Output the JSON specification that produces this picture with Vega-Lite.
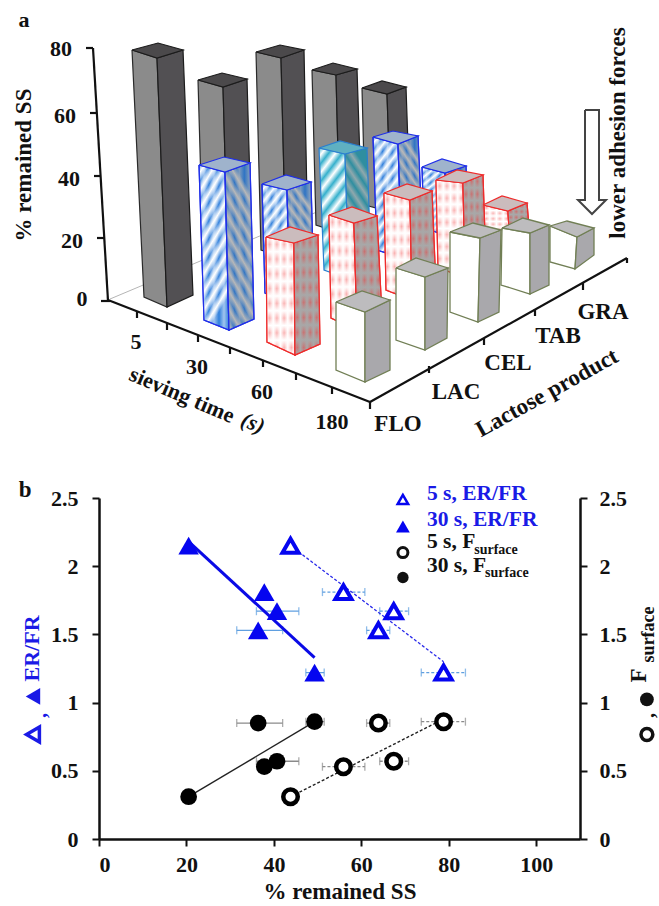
{"$schema":"https://vega.github.io/schema/vega-lite/v6.json","background":"white","autosize":{"type":"pad"},"padding":{"left":13,"top":0,"right":0,"bottom":0},"bounds":"flush","spacing":38,"config":{"view":{"stroke":null},"text":{"font":"Liberation Serif","fontWeight":"bold","fontSize":22,"color":"#111"}},
"datasets":{"faces":[
{"s":"5 s","p":"GRA","f":"front","x":[362,387,391,365,362],"y":[88,94,212,205,88],"v":[0,1,2,3,4]},
{"s":"5 s","p":"GRA","f":"side","x":[387,406,410,391,387],"y":[94,87,203,212,94],"v":[0,1,2,3,4]},
{"s":"5 s","p":"GRA","f":"top","x":[362,382,406,387,362],"y":[88,81,87,94,88],"v":[0,1,2,3,4]},
{"s":"5 s","p":"TAB","f":"front","x":[312,336,340,316,312],"y":[70,75,233,225,70],"v":[0,1,2,3,4]},
{"s":"5 s","p":"TAB","f":"side","x":[336,357,362,340,336],"y":[75,69,222,233,75],"v":[0,1,2,3,4]},
{"s":"5 s","p":"TAB","f":"top","x":[312,333,357,336,312],"y":[70,63,69,75,70],"v":[0,1,2,3,4]},
{"s":"5 s","p":"CEL","f":"front","x":[256,281,286,261,256],"y":[52,58,258,250,52],"v":[0,1,2,3,4]},
{"s":"5 s","p":"CEL","f":"side","x":[281,304,308,286,281],"y":[58,50,248,258,58],"v":[0,1,2,3,4]},
{"s":"5 s","p":"CEL","f":"top","x":[256,280,304,281,256],"y":[52,45,50,58,52],"v":[0,1,2,3,4]},
{"s":"5 s","p":"LAC","f":"front","x":[198,223,228,203,198],"y":[80,87,264,255,80],"v":[0,1,2,3,4]},
{"s":"5 s","p":"LAC","f":"side","x":[223,247,252,228,223],"y":[87,79,254,264,87],"v":[0,1,2,3,4]},
{"s":"5 s","p":"LAC","f":"top","x":[198,222,247,223,198],"y":[80,73,79,87,80],"v":[0,1,2,3,4]},
{"s":"5 s","p":"FLO","f":"front","x":[132,157,167,144,132],"y":[50,58,307,297,50],"v":[0,1,2,3,4]},
{"s":"5 s","p":"FLO","f":"side","x":[157,183,193,167,157],"y":[58,50,295,307,58],"v":[0,1,2,3,4]},
{"s":"5 s","p":"FLO","f":"top","x":[132,158,183,157,132],"y":[50,43,50,58,50],"v":[0,1,2,3,4]},
{"s":"30 s","p":"GRA","f":"front","x":[422,445,448,424,422],"y":[167,173,236,228,167],"v":[0,1,2,3,4]},
{"s":"30 s","p":"GRA","f":"side","x":[445,466,468,448,445],"y":[173,166,226,236,173],"v":[0,1,2,3,4]},
{"s":"30 s","p":"GRA","f":"top","x":[422,442,466,445,422],"y":[167,159,166,173,167],"v":[0,1,2,3,4]},
{"s":"30 s","p":"TAB","f":"front","x":[373,398,402,377,373],"y":[137,144,258,250,137],"v":[0,1,2,3,4]},
{"s":"30 s","p":"TAB","f":"side","x":[398,418,423,402,398],"y":[144,136,247,258,144],"v":[0,1,2,3,4]},
{"s":"30 s","p":"TAB","f":"top","x":[373,393,418,398,373],"y":[137,131,136,144,137],"v":[0,1,2,3,4]},
{"s":"30 s","p":"CEL","f":"front","x":[319,345,349,324,319],"y":[148,154,279,270,148],"v":[0,1,2,3,4]},
{"s":"30 s","p":"CEL","f":"side","x":[345,367,371,349,345],"y":[154,148,268,279,154],"v":[0,1,2,3,4]},
{"s":"30 s","p":"CEL","f":"top","x":[319,340,367,345,319],"y":[148,141,148,154,148],"v":[0,1,2,3,4]},
{"s":"30 s","p":"LAC","f":"front","x":[262,287,290,265,262],"y":[184,190,303,293,184],"v":[0,1,2,3,4]},
{"s":"30 s","p":"LAC","f":"side","x":[287,311,314,290,287],"y":[190,182,292,303,190],"v":[0,1,2,3,4]},
{"s":"30 s","p":"LAC","f":"top","x":[262,286,311,287,262],"y":[184,175,182,190,184],"v":[0,1,2,3,4]},
{"s":"30 s","p":"FLO","f":"front","x":[199,225,229,204,199],"y":[165,172,330,320,165],"v":[0,1,2,3,4]},
{"s":"30 s","p":"FLO","f":"side","x":[225,250,254,229,225],"y":[172,163,319,330,172],"v":[0,1,2,3,4]},
{"s":"30 s","p":"FLO","f":"top","x":[199,224,250,225,199],"y":[165,157,163,172,165],"v":[0,1,2,3,4]},
{"s":"60 s","p":"GRA","f":"front","x":[483,508,510,485,483],"y":[205,211,249,240,205],"v":[0,1,2,3,4]},
{"s":"60 s","p":"GRA","f":"side","x":[508,527,530,510,508],"y":[211,203,238,249,211],"v":[0,1,2,3,4]},
{"s":"60 s","p":"GRA","f":"top","x":[483,502,527,508,483],"y":[205,196,203,211,205],"v":[0,1,2,3,4]},
{"s":"60 s","p":"TAB","f":"front","x":[436,463,465,438,436],"y":[180,183,277,268,180],"v":[0,1,2,3,4]},
{"s":"60 s","p":"TAB","f":"side","x":[463,483,486,465,463],"y":[183,175,265,277,183],"v":[0,1,2,3,4]},
{"s":"60 s","p":"TAB","f":"top","x":[436,457,483,463,436],"y":[180,170,175,183,180],"v":[0,1,2,3,4]},
{"s":"60 s","p":"CEL","f":"front","x":[384,410,412,386,384],"y":[193,200,300,290,193],"v":[0,1,2,3,4]},
{"s":"60 s","p":"CEL","f":"side","x":[410,432,436,412,410],"y":[200,191,288,300,200],"v":[0,1,2,3,4]},
{"s":"60 s","p":"CEL","f":"top","x":[384,407,432,410,384],"y":[193,184,191,200,193],"v":[0,1,2,3,4]},
{"s":"60 s","p":"LAC","f":"front","x":[329,354,357,331,329],"y":[215,223,330,318,215],"v":[0,1,2,3,4]},
{"s":"60 s","p":"LAC","f":"side","x":[354,377,382,357,354],"y":[223,216,316,330,223],"v":[0,1,2,3,4]},
{"s":"60 s","p":"LAC","f":"top","x":[329,352,377,354,329],"y":[215,207,216,223,215],"v":[0,1,2,3,4]},
{"s":"60 s","p":"FLO","f":"front","x":[266,294,295,267,266],"y":[237,243,355,342,237],"v":[0,1,2,3,4]},
{"s":"60 s","p":"FLO","f":"side","x":[294,318,320,295,294],"y":[243,235,344,355,243],"v":[0,1,2,3,4]},
{"s":"60 s","p":"FLO","f":"top","x":[266,290,318,294,266],"y":[237,227,235,243,237],"v":[0,1,2,3,4]},
{"s":"180 s","p":"GRA","f":"front","x":[550,577,575,550,550],"y":[226,237,269,262,226],"v":[0,1,2,3,4]},
{"s":"180 s","p":"GRA","f":"side","x":[577,594,594,575,577],"y":[237,228,255,269,237],"v":[0,1,2,3,4]},
{"s":"180 s","p":"GRA","f":"top","x":[550,567,594,577,550],"y":[226,221,228,237,226],"v":[0,1,2,3,4]},
{"s":"180 s","p":"TAB","f":"front","x":[502,530,530,501,502],"y":[228,233,294,285,228],"v":[0,1,2,3,4]},
{"s":"180 s","p":"TAB","f":"side","x":[530,549,549,530,530],"y":[233,225,285,294,233],"v":[0,1,2,3,4]},
{"s":"180 s","p":"TAB","f":"top","x":[502,523,549,530,502],"y":[228,218,225,233,228],"v":[0,1,2,3,4]},
{"s":"180 s","p":"CEL","f":"front","x":[450,480,478,450,450],"y":[232,238,322,312,232],"v":[0,1,2,3,4]},
{"s":"180 s","p":"CEL","f":"side","x":[480,501,499,478,480],"y":[238,230,312,322,238],"v":[0,1,2,3,4]},
{"s":"180 s","p":"CEL","f":"top","x":[450,473,501,480,450],"y":[232,223,230,238,232],"v":[0,1,2,3,4]},
{"s":"180 s","p":"LAC","f":"front","x":[396,425,425,396,396],"y":[268,277,350,340,268],"v":[0,1,2,3,4]},
{"s":"180 s","p":"LAC","f":"side","x":[425,448,447,425,425],"y":[277,268,338,350,277],"v":[0,1,2,3,4]},
{"s":"180 s","p":"LAC","f":"top","x":[396,416,448,425,396],"y":[268,258,268,277,268],"v":[0,1,2,3,4]},
{"s":"180 s","p":"FLO","f":"front","x":[336,365,365,336,336],"y":[302,312,382,370,302],"v":[0,1,2,3,4]},
{"s":"180 s","p":"FLO","f":"side","x":[365,390,390,365,365],"y":[312,300,370,382,312],"v":[0,1,2,3,4]},
{"s":"180 s","p":"FLO","f":"top","x":[336,362,390,365,336],"y":[302,291,300,312,302],"v":[0,1,2,3,4]}
],
"frame":[
{"id":"zaxis","x":[93,108],"y":[48,301],"v":[0,1]},{"id":"left","x":[108,370],"y":[300,402],"v":[0,1]},{"id":"right","x":[370,627],"y":[402,258],"v":[0,1]},
{"id":"t80","x":[86,93],"y":[48,48],"v":[0,1]},{"id":"t60","x":[90,97],"y":[113,113],"v":[0,1]},{"id":"t40","x":[94,100.5],"y":[176,176],"v":[0,1]},{"id":"t20","x":[97,104],"y":[238,238],"v":[0,1]},{"id":"t0","x":[101,110],"y":[301,301],"v":[0,1]},
{"id":"l1","x":[137,137],"y":[311,318],"v":[0,1]},{"id":"l2","x":[167,167],"y":[323,330],"v":[0,1]},{"id":"l3","x":[198,198],"y":[335,342],"v":[0,1]},{"id":"l4","x":[230,230],"y":[347,354],"v":[0,1]},{"id":"l5","x":[263,263],"y":[360,367],"v":[0,1]},{"id":"l6","x":[296,296],"y":[373,380],"v":[0,1]},{"id":"l7","x":[332,332],"y":[387,394],"v":[0,1]},{"id":"l8","x":[370,370],"y":[402,409],"v":[0,1]},
{"id":"r1","x":[429,429],"y":[366,373],"v":[0,1]},{"id":"r2","x":[484,484],"y":[338,345],"v":[0,1]},{"id":"r3","x":[535,535],"y":[309,316],"v":[0,1]},{"id":"r4","x":[583,583],"y":[283,290],"v":[0,1]},{"id":"r5","x":[627,627],"y":[258,263],"v":[0,1]}
],
"points":[
{"time":"5 s","metric":"ER/FR","x":43.8,"y":2.15},
{"time":"5 s","metric":"ER/FR","x":55.9,"y":1.81,"xlo":51.1,"xhi":60.8},
{"time":"5 s","metric":"ER/FR","x":67.4,"y":1.67,"xlo":64.2,"xhi":70.8},
{"time":"5 s","metric":"ER/FR","x":63.9,"y":1.53,"xlo":61.2,"xhi":66.5},
{"time":"5 s","metric":"ER/FR","x":78.8,"y":1.22,"xlo":73.7,"xhi":83.8},
{"time":"30 s","metric":"ER/FR","x":20.5,"y":2.15},
{"time":"30 s","metric":"ER/FR","x":37.8,"y":1.81},
{"time":"30 s","metric":"ER/FR","x":40.7,"y":1.67,"xlo":36,"xhi":45.7},
{"time":"30 s","metric":"ER/FR","x":36.4,"y":1.53,"xlo":31.5,"xhi":42},
{"time":"30 s","metric":"ER/FR","x":49.3,"y":1.22,"xlo":47.3,"xhi":51.5},
{"time":"5 s","metric":"Fsurface","x":43.8,"y":0.31},
{"time":"5 s","metric":"Fsurface","x":55.9,"y":0.53,"xlo":51.1,"xhi":60.8},
{"time":"5 s","metric":"Fsurface","x":67.4,"y":0.57,"xlo":64.2,"xhi":70.8},
{"time":"5 s","metric":"Fsurface","x":63.9,"y":0.85,"xlo":61.2,"xhi":66.5},
{"time":"5 s","metric":"Fsurface","x":78.8,"y":0.86,"xlo":73.7,"xhi":83.8},
{"time":"30 s","metric":"Fsurface","x":20.5,"y":0.31},
{"time":"30 s","metric":"Fsurface","x":37.8,"y":0.53},
{"time":"30 s","metric":"Fsurface","x":40.7,"y":0.57,"xlo":36,"xhi":45.7},
{"time":"30 s","metric":"Fsurface","x":36.4,"y":0.85,"xlo":31.5,"xhi":42},
{"time":"30 s","metric":"Fsurface","x":49.3,"y":0.86,"xlo":47.3,"xhi":51.5}
],
"trend":[
{"time":"5 s","metric":"ER/FR","x":43.8,"y":2.15},{"time":"5 s","metric":"ER/FR","x":78.8,"y":1.3},
{"time":"30 s","metric":"ER/FR","x":20.5,"y":2.18},{"time":"30 s","metric":"ER/FR","x":49.3,"y":1.33},
{"time":"5 s","metric":"Fsurface","x":43.8,"y":0.31},{"time":"5 s","metric":"Fsurface","x":78.8,"y":0.88},
{"time":"30 s","metric":"Fsurface","x":20.5,"y":0.31},{"time":"30 s","metric":"Fsurface","x":49.3,"y":0.86}
]},
"vconcat":[
{"width":481,"height":460,
"encoding":{"x":{"field":"x","type":"quantitative","scale":{"domain":[99,580],"nice":false,"zero":false},"axis":null},"y":{"field":"y","type":"quantitative","scale":{"domain":[460,0],"nice":false,"zero":false},"axis":null}},
"layer":[
{"data":{"values":[{"x":[110,362],"y":[299,193],"v":[0,1]}]},"transform":[{"flatten":["x","y","v"]}],"mark":{"type":"line","stroke":"#b5b5b5","strokeWidth":1},"encoding":{"order":{"field":"v"}}},
{"data":{"name":"faces"},"transform":[{"flatten":["x","y","v"]}],
"encoding":{"order":{"field":"v"},"detail":{"field":"p"}},
"layer":[
{"transform":[{"filter":"datum.s=='5 s'&&datum.f=='front'"}],"mark":{"type":"line","fill":"#8b8b8b","stroke":"#2a2a2a","strokeWidth":1.2}},
{"transform":[{"filter":"datum.s=='5 s'&&datum.f=='side'"}],"mark":{"type":"line","fill":"#525053","stroke":"#1c1c1c","strokeWidth":1.2}},
{"transform":[{"filter":"datum.s=='5 s'&&datum.f=='top'"}],"mark":{"type":"line","fill":"#4b494b","stroke":"#1c1c1c","strokeWidth":1.2}},
{"transform":[{"filter":"datum.s=='30 s'&&datum.p!='CEL'&&datum.f=='front'"}],"mark":{"type":"line","stroke":"#1f2fe8","strokeWidth":1.2,"fill":{"gradient":"linear","x1":0,"y1":0,"x2":0.3,"y2":1,"stops":[{"offset":0,"color":"#2f7fdc"},{"offset":0.05,"color":"#ffffff"},{"offset":0.1,"color":"#2f7fdc"},{"offset":0.15,"color":"#ffffff"},{"offset":0.2,"color":"#2f7fdc"},{"offset":0.25,"color":"#ffffff"},{"offset":0.3,"color":"#2f7fdc"},{"offset":0.35,"color":"#ffffff"},{"offset":0.4,"color":"#2f7fdc"},{"offset":0.45,"color":"#ffffff"},{"offset":0.5,"color":"#2f7fdc"},{"offset":0.55,"color":"#ffffff"},{"offset":0.6,"color":"#2f7fdc"},{"offset":0.65,"color":"#ffffff"},{"offset":0.7,"color":"#2f7fdc"},{"offset":0.75,"color":"#ffffff"},{"offset":0.8,"color":"#2f7fdc"},{"offset":0.85,"color":"#ffffff"},{"offset":0.9,"color":"#2f7fdc"},{"offset":0.95,"color":"#ffffff"},{"offset":1,"color":"#2f7fdc"}]}}},
{"transform":[{"filter":"datum.s=='30 s'&&datum.p!='CEL'&&datum.f=='front'"}],"mark":{"type":"line","stroke":"#1f2fe8","strokeWidth":1.2,"fill":{"gradient":"linear","x1":0,"y1":0,"x2":1,"y2":0,"stops":[{"offset":0,"color":"rgba(255,255,255,0)"},{"offset":0.1667,"color":"rgba(255,255,255,0.55)"},{"offset":0.3333,"color":"rgba(255,255,255,0)"},{"offset":0.5,"color":"rgba(255,255,255,0.55)"},{"offset":0.6667,"color":"rgba(255,255,255,0)"},{"offset":0.8333,"color":"rgba(255,255,255,0.55)"},{"offset":1,"color":"rgba(255,255,255,0)"}]}}},
{"transform":[{"filter":"datum.s=='30 s'&&datum.p!='CEL'&&datum.f=='side'"}],"mark":{"type":"line","stroke":"#1f2fe8","strokeWidth":1.2,"fill":{"gradient":"linear","x1":0.3,"y1":0,"x2":0,"y2":1,"stops":[{"offset":0,"color":"#2f74c4"},{"offset":0.05,"color":"#b8b8b8"},{"offset":0.1,"color":"#2f74c4"},{"offset":0.15,"color":"#b8b8b8"},{"offset":0.2,"color":"#2f74c4"},{"offset":0.25,"color":"#b8b8b8"},{"offset":0.3,"color":"#2f74c4"},{"offset":0.35,"color":"#b8b8b8"},{"offset":0.4,"color":"#2f74c4"},{"offset":0.45,"color":"#b8b8b8"},{"offset":0.5,"color":"#2f74c4"},{"offset":0.55,"color":"#b8b8b8"},{"offset":0.6,"color":"#2f74c4"},{"offset":0.65,"color":"#b8b8b8"},{"offset":0.7,"color":"#2f74c4"},{"offset":0.75,"color":"#b8b8b8"},{"offset":0.8,"color":"#2f74c4"},{"offset":0.85,"color":"#b8b8b8"},{"offset":0.9,"color":"#2f74c4"},{"offset":0.95,"color":"#b8b8b8"},{"offset":1,"color":"#2f74c4"}]}}},
{"transform":[{"filter":"datum.s=='30 s'&&datum.p!='CEL'&&datum.f=='side'"}],"mark":{"type":"line","stroke":"#1f2fe8","strokeWidth":1.2,"fill":{"gradient":"linear","x1":0,"y1":0,"x2":1,"y2":0,"stops":[{"offset":0,"color":"rgba(184,184,184,0)"},{"offset":0.1667,"color":"rgba(184,184,184,0.55)"},{"offset":0.3333,"color":"rgba(184,184,184,0)"},{"offset":0.5,"color":"rgba(184,184,184,0.55)"},{"offset":0.6667,"color":"rgba(184,184,184,0)"},{"offset":0.8333,"color":"rgba(184,184,184,0.55)"},{"offset":1,"color":"rgba(184,184,184,0)"}]}}},
{"transform":[{"filter":"datum.s=='30 s'&&datum.p!='CEL'&&datum.f=='top'"}],"mark":{"type":"line","fill":"#9fb3cc","stroke":"#1f2fe8","strokeWidth":1.2}},
{"transform":[{"filter":"datum.s=='30 s'&&datum.p=='CEL'&&datum.f=='front'"}],"mark":{"type":"line","stroke":"#2a7fd0","strokeWidth":1.2,"fill":{"gradient":"linear","x1":0,"y1":0,"x2":0.3,"y2":1,"stops":[{"offset":0,"color":"#35b0cc"},{"offset":0.0625,"color":"#ffffff"},{"offset":0.125,"color":"#35b0cc"},{"offset":0.1875,"color":"#ffffff"},{"offset":0.25,"color":"#35b0cc"},{"offset":0.3125,"color":"#ffffff"},{"offset":0.375,"color":"#35b0cc"},{"offset":0.4375,"color":"#ffffff"},{"offset":0.5,"color":"#35b0cc"},{"offset":0.5625,"color":"#ffffff"},{"offset":0.625,"color":"#35b0cc"},{"offset":0.6875,"color":"#ffffff"},{"offset":0.75,"color":"#35b0cc"},{"offset":0.8125,"color":"#ffffff"},{"offset":0.875,"color":"#35b0cc"},{"offset":0.9375,"color":"#ffffff"},{"offset":1,"color":"#35b0cc"}]}}},
{"transform":[{"filter":"datum.s=='30 s'&&datum.p=='CEL'&&datum.f=='side'"}],"mark":{"type":"line","stroke":"#2a7fd0","strokeWidth":1.2,"fill":{"gradient":"linear","x1":0.3,"y1":0,"x2":0,"y2":1,"stops":[{"offset":0,"color":"#2f8ea0"},{"offset":0.0625,"color":"#8fa8ad"},{"offset":0.125,"color":"#2f8ea0"},{"offset":0.1875,"color":"#8fa8ad"},{"offset":0.25,"color":"#2f8ea0"},{"offset":0.3125,"color":"#8fa8ad"},{"offset":0.375,"color":"#2f8ea0"},{"offset":0.4375,"color":"#8fa8ad"},{"offset":0.5,"color":"#2f8ea0"},{"offset":0.5625,"color":"#8fa8ad"},{"offset":0.625,"color":"#2f8ea0"},{"offset":0.6875,"color":"#8fa8ad"},{"offset":0.75,"color":"#2f8ea0"},{"offset":0.8125,"color":"#8fa8ad"},{"offset":0.875,"color":"#2f8ea0"},{"offset":0.9375,"color":"#8fa8ad"},{"offset":1,"color":"#2f8ea0"}]}}},
{"transform":[{"filter":"datum.s=='30 s'&&datum.p=='CEL'&&datum.f=='top'"}],"mark":{"type":"line","stroke":"#2a7fd0","strokeWidth":1.2,"fill":"#5fb0c2"}},
{"transform":[{"filter":"datum.s=='60 s'&&datum.f=='front'"}],"mark":{"type":"line","stroke":"#ee2b2b","strokeWidth":1.2,"fill":{"gradient":"linear","x1":0,"y1":0,"x2":0,"y2":1,"stops":[{"offset":0,"color":"#ffffff"},{"offset":0.0625,"color":"#f9a8a8"},{"offset":0.125,"color":"#ffffff"},{"offset":0.1875,"color":"#f9a8a8"},{"offset":0.25,"color":"#ffffff"},{"offset":0.3125,"color":"#f9a8a8"},{"offset":0.375,"color":"#ffffff"},{"offset":0.4375,"color":"#f9a8a8"},{"offset":0.5,"color":"#ffffff"},{"offset":0.5625,"color":"#f9a8a8"},{"offset":0.625,"color":"#ffffff"},{"offset":0.6875,"color":"#f9a8a8"},{"offset":0.75,"color":"#ffffff"},{"offset":0.8125,"color":"#f9a8a8"},{"offset":0.875,"color":"#ffffff"},{"offset":0.9375,"color":"#f9a8a8"},{"offset":1,"color":"#ffffff"}]}}},
{"transform":[{"filter":"datum.s=='60 s'&&datum.f=='front'"}],"mark":{"type":"line","stroke":"#ee2b2b","strokeWidth":1.2,"fill":{"gradient":"linear","x1":0,"y1":0,"x2":1,"y2":0,"stops":[{"offset":0,"color":"rgba(255,255,255,1)"},{"offset":0.125,"color":"rgba(255,255,255,0.1)"},{"offset":0.25,"color":"rgba(255,255,255,1)"},{"offset":0.375,"color":"rgba(255,255,255,0.1)"},{"offset":0.5,"color":"rgba(255,255,255,1)"},{"offset":0.625,"color":"rgba(255,255,255,0.1)"},{"offset":0.75,"color":"rgba(255,255,255,1)"},{"offset":0.875,"color":"rgba(255,255,255,0.1)"},{"offset":1,"color":"rgba(255,255,255,1)"}]}}},
{"transform":[{"filter":"datum.s=='60 s'&&datum.f=='side'"}],"mark":{"type":"line","stroke":"#ee2b2b","strokeWidth":1.2,"fill":{"gradient":"linear","x1":0,"y1":0,"x2":0,"y2":1,"stops":[{"offset":0,"color":"#a8a8a8"},{"offset":0.0625,"color":"#cf6a6a"},{"offset":0.125,"color":"#a8a8a8"},{"offset":0.1875,"color":"#cf6a6a"},{"offset":0.25,"color":"#a8a8a8"},{"offset":0.3125,"color":"#cf6a6a"},{"offset":0.375,"color":"#a8a8a8"},{"offset":0.4375,"color":"#cf6a6a"},{"offset":0.5,"color":"#a8a8a8"},{"offset":0.5625,"color":"#cf6a6a"},{"offset":0.625,"color":"#a8a8a8"},{"offset":0.6875,"color":"#cf6a6a"},{"offset":0.75,"color":"#a8a8a8"},{"offset":0.8125,"color":"#cf6a6a"},{"offset":0.875,"color":"#a8a8a8"},{"offset":0.9375,"color":"#cf6a6a"},{"offset":1,"color":"#a8a8a8"}]}}},
{"transform":[{"filter":"datum.s=='60 s'&&datum.f=='side'"}],"mark":{"type":"line","stroke":"#ee2b2b","strokeWidth":1.2,"fill":{"gradient":"linear","x1":0,"y1":0,"x2":1,"y2":0,"stops":[{"offset":0,"color":"rgba(168,168,168,1)"},{"offset":0.125,"color":"rgba(168,168,168,0.1)"},{"offset":0.25,"color":"rgba(168,168,168,1)"},{"offset":0.375,"color":"rgba(168,168,168,0.1)"},{"offset":0.5,"color":"rgba(168,168,168,1)"},{"offset":0.625,"color":"rgba(168,168,168,0.1)"},{"offset":0.75,"color":"rgba(168,168,168,1)"},{"offset":0.875,"color":"rgba(168,168,168,0.1)"},{"offset":1,"color":"rgba(168,168,168,1)"}]}}},
{"transform":[{"filter":"datum.s=='60 s'&&datum.f=='top'"}],"mark":{"type":"line","fill":"#cbbcbd","stroke":"#ee2b2b","strokeWidth":1.2}},
{"transform":[{"filter":"datum.s=='180 s'&&datum.f=='front'"}],"mark":{"type":"line","fill":"#ffffff","stroke":"#717f55","strokeWidth":1.3}},
{"transform":[{"filter":"datum.s=='180 s'&&datum.f=='side'"}],"mark":{"type":"line","fill":"#a9a8ac","stroke":"#717f55","strokeWidth":1.3}},
{"transform":[{"filter":"datum.s=='180 s'&&datum.f=='top'"}],"mark":{"type":"line","fill":"#bdbcbe","stroke":"#717f55","strokeWidth":1.3}}
]},
{"data":{"name":"frame"},"transform":[{"flatten":["x","y","v"]}],"mark":{"type":"line","stroke":"#111","strokeWidth":2.2},"encoding":{"order":{"field":"v"},"detail":{"field":"id"}}},
{"data":{"values":[{"x":[585,599,599,606,592,578,585,585],"y":[110,110,200,200,214,200,200,110],"v":[0,1,2,3,4,5,6,7]}]},"transform":[{"flatten":["x","y","v"]}],"mark":{"type":"line","fill":"#ffffff","stroke":"#444","strokeWidth":2},"encoding":{"order":{"field":"v"}}},
{"data":{"values":[{"x":61,"y":49,"t":"80"},{"x":65,"y":116,"t":"60"},{"x":69,"y":179,"t":"40"},{"x":72,"y":241,"t":"20"},{"x":82,"y":299,"t":"0"},{"x":136,"y":342,"t":"5"},{"x":197,"y":367,"t":"30"},{"x":262,"y":392,"t":"60"},{"x":332,"y":422,"t":"180"},{"x":24,"y":20,"t":"a"}]},"mark":{"type":"text","baseline":"middle","align":"center"},"encoding":{"text":{"field":"t"}}},
{"data":{"values":[{"x":398,"y":424,"t":"FLO"},{"x":456,"y":392,"t":"LAC"},{"x":508,"y":363,"t":"CEL"},{"x":558,"y":336,"t":"TAB"},{"x":603,"y":312,"t":"GRA"}]},"mark":{"type":"text","baseline":"middle","align":"center","fontSize":23},"encoding":{"text":{"field":"t"}}},
{"data":{"values":[{"x":24,"y":165,"t":"% remained SS"},{"x":618,"y":133,"t":"lower adhesion forces"}]},"mark":{"type":"text","baseline":"middle","align":"center","angle":270,"fontSize":23},"encoding":{"text":{"field":"t"}}},
{"data":{"values":[{"x":182,"y":395,"t":"sieving time"}]},"mark":{"type":"text","baseline":"middle","align":"center","angle":23},"encoding":{"text":{"field":"t"}}},
{"data":{"values":[{"x":253,"y":423,"t":"(s)"}]},"mark":{"type":"text","baseline":"middle","align":"center","angle":23,"fontStyle":"italic"},"encoding":{"text":{"field":"t"}}},
{"data":{"values":[{"x":547,"y":393,"t":"Lactose product"}]},"mark":{"type":"text","baseline":"middle","align":"center","angle":331,"fontSize":23},"encoding":{"text":{"field":"t"}}}
]},
{"width":481,"height":341,
"resolve":{"scale":{"y":"independent"},"axis":{"y":"independent"}},
"layer":[
{"encoding":{"x":{"field":"x","type":"quantitative","title":"% remained SS","scale":{"domain":[0,110],"nice":false,"zero":false},"axis":{"values":[0,20,40,60,80,100],"grid":false,"domainWidth":2.5,"domainColor":"#111","tickColor":"#111","tickWidth":2,"tickSize":7,"labelFont":"Liberation Serif","labelFontWeight":"bold","labelFontSize":22,"labelColor":"#111","labelPadding":8,"titleFont":"Liberation Serif","titleFontWeight":"bold","titleFontSize":23,"titleColor":"#111","titlePadding":5}},
"y":{"field":"y","type":"quantitative","title":null,"scale":{"domain":[0,2.5],"nice":false,"zero":false},"axis":{"orient":"left","values":[0,0.5,1,1.5,2,2.5],"format":"~g","grid":false,"domainWidth":2.5,"domainColor":"#111","tickColor":"#111","tickWidth":2,"tickSize":7,"labelFont":"Liberation Serif","labelFontWeight":"bold","labelFontSize":22,"labelColor":"#111","labelPadding":14}}},
"layer":[
{"data":{"name":"points"},"transform":[{"filter":"datum.metric=='ER/FR'&&isValid(datum.xlo)"}],"mark":{"type":"rule","color":"#5f9fe0","strokeWidth":1.3},"encoding":{"x":{"field":"xlo","type":"quantitative","title":"% remained SS","scale":{"domain":[0,110],"nice":false,"zero":false}},"x2":{"field":"xhi"},"strokeDash":{"field":"time","scale":{"domain":["5 s","30 s"],"range":[[3,2],[1,0]]},"legend":null}}},
{"data":{"name":"points"},"transform":[{"filter":"datum.metric=='ER/FR'&&isValid(datum.xlo)"}],"mark":{"type":"tick","orient":"vertical","size":8,"color":"#5f9fe0","thickness":1.3},"encoding":{"x":{"field":"xlo","type":"quantitative","title":"% remained SS","scale":{"domain":[0,110],"nice":false,"zero":false}}}},
{"data":{"name":"points"},"transform":[{"filter":"datum.metric=='ER/FR'&&isValid(datum.xlo)"}],"mark":{"type":"tick","orient":"vertical","size":8,"color":"#5f9fe0","thickness":1.3},"encoding":{"x":{"field":"xhi","type":"quantitative","title":"% remained SS","scale":{"domain":[0,110],"nice":false,"zero":false}}}},
{"data":{"name":"trend"},"transform":[{"filter":"datum.metric=='ER/FR'&&datum.time=='30 s'"}],"mark":{"type":"line","color":"#0a0ae6","strokeWidth":3}},
{"data":{"name":"trend"},"transform":[{"filter":"datum.metric=='ER/FR'&&datum.time=='5 s'"}],"mark":{"type":"line","color":"#2a2aea","strokeWidth":1.3,"strokeDash":[3,2]}},
{"data":{"name":"points"},"transform":[{"filter":"datum.metric=='ER/FR'&&datum.time=='30 s'"}],"mark":{"type":"point","shape":"triangle-up","filled":true,"color":"#0505f0","size":420,"opacity":1}},
{"data":{"name":"points"},"transform":[{"filter":"datum.metric=='ER/FR'&&datum.time=='5 s'"}],"mark":{"type":"point","shape":"triangle-up","filled":false,"stroke":"#0505f0","strokeWidth":4,"fill":"white","size":260,"opacity":1}},
{"data":{"values":[{"x":69.5,"y":2.489}]},"mark":{"type":"point","shape":"triangle-up","filled":false,"stroke":"#0505f0","strokeWidth":2.5,"size":110,"opacity":1}},
{"data":{"values":[{"x":69.5,"y":2.291}]},"mark":{"type":"point","shape":"triangle-up","filled":true,"color":"#0505f0","size":190,"opacity":1}},
{"data":{"values":[{"x":69.5,"y":2.1}]},"mark":{"type":"point","shape":"circle","filled":false,"stroke":"#111","strokeWidth":3,"size":100,"opacity":1}},
{"data":{"values":[{"x":69.5,"y":1.917}]},"mark":{"type":"point","shape":"circle","filled":true,"color":"#111","size":130,"opacity":1}},
{"data":{"values":[{"x":75,"y":2.526,"t":"5 s, ER/FR"},{"x":75,"y":2.342,"t":"30 s, ER/FR"}]},"mark":{"type":"text","align":"left","baseline":"middle","color":"#1a1ae6","fontSize":21.5},"encoding":{"text":{"field":"t"}}},
{"data":{"values":[{"x":75,"y":2.174,"t":"5 s, F"},{"x":75,"y":1.998,"t":"30 s, F"}]},"mark":{"type":"text","align":"left","baseline":"middle","fontSize":21.5},"encoding":{"text":{"field":"t"}}},
{"data":{"values":[{"x":85.8,"y":2.122,"t":"surface"},{"x":88.3,"y":1.947,"t":"surface"}]},"mark":{"type":"text","align":"left","baseline":"middle","fontSize":14},"encoding":{"text":{"field":"t"}}},
{"data":{"values":[{"x":-16.9,"y":2.562,"t":"b"}]},"mark":{"type":"text","align":"center","baseline":"middle","fontSize":23},"encoding":{"text":{"field":"t"}}},
{"data":{"values":[{"x":-15.3,"y":1.397,"t":"ER/FR"}]},"mark":{"type":"text","align":"center","baseline":"middle","angle":270,"color":"#1a1ae6","fontSize":22},"encoding":{"text":{"field":"t"}}},
{"data":{"values":[{"x":-15.1,"y":0.766}]},"mark":{"type":"point","shape":"triangle-left","filled":false,"stroke":"#1a1ae6","strokeWidth":3.5,"size":220,"opacity":1}},
{"data":{"values":[{"x":-15.1,"y":1.045}]},"mark":{"type":"point","shape":"triangle-left","filled":true,"color":"#1a1ae6","size":280,"opacity":1}},
{"data":{"values":[{"x":-13.5,"y":0.905,"t":","}]},"mark":{"type":"text","align":"center","baseline":"middle","angle":270,"color":"#1a1ae6","fontSize":20},"encoding":{"text":{"field":"t"}}},
{"data":{"values":[{"x":125.3,"y":0.766}]},"mark":{"type":"point","shape":"circle","filled":false,"stroke":"#111","strokeWidth":3.5,"size":140,"opacity":1}},
{"data":{"values":[{"x":125.3,"y":1.023}]},"mark":{"type":"point","shape":"circle","filled":true,"color":"#111","size":190,"opacity":1}},
{"data":{"values":[{"x":125.6,"y":0.905,"t":","}]},"mark":{"type":"text","align":"center","baseline":"middle","angle":270,"fontSize":20},"encoding":{"text":{"field":"t"}}},
{"data":{"values":[{"x":123.5,"y":1.199,"t":"F"}]},"mark":{"type":"text","align":"center","baseline":"middle","angle":270,"fontSize":23},"encoding":{"text":{"field":"t"}}},
{"data":{"values":[{"x":125.7,"y":1.5,"t":"surface"}]},"mark":{"type":"text","align":"center","baseline":"middle","angle":270,"fontSize":18},"encoding":{"text":{"field":"t"}}}
]},
{"encoding":{"x":{"field":"x","type":"quantitative","title":"% remained SS","scale":{"domain":[0,110],"nice":false,"zero":false}},
"y":{"field":"y","type":"quantitative","title":null,"scale":{"domain":[0,2.5],"nice":false,"zero":false},"axis":{"orient":"right","values":[0,0.5,1,1.5,2,2.5],"format":"~g","grid":false,"domainWidth":2.5,"domainColor":"#111","tickColor":"#111","tickWidth":2,"tickSize":7,"labelFont":"Liberation Serif","labelFontWeight":"bold","labelFontSize":22,"labelColor":"#111","labelPadding":12}}},
"layer":[
{"data":{"name":"points"},"transform":[{"filter":"datum.metric=='Fsurface'&&isValid(datum.xlo)"}],"mark":{"type":"rule","color":"#8a8a8a","strokeWidth":1.3},"encoding":{"x":{"field":"xlo","type":"quantitative","title":"% remained SS","scale":{"domain":[0,110],"nice":false,"zero":false}},"x2":{"field":"xhi"},"strokeDash":{"field":"time","scale":{"domain":["5 s","30 s"],"range":[[3,2],[1,0]]},"legend":null}}},
{"data":{"name":"points"},"transform":[{"filter":"datum.metric=='Fsurface'&&isValid(datum.xlo)"}],"mark":{"type":"tick","orient":"vertical","size":8,"color":"#8a8a8a","thickness":1.3},"encoding":{"x":{"field":"xlo","type":"quantitative","title":"% remained SS","scale":{"domain":[0,110],"nice":false,"zero":false}}}},
{"data":{"name":"points"},"transform":[{"filter":"datum.metric=='Fsurface'&&isValid(datum.xlo)"}],"mark":{"type":"tick","orient":"vertical","size":8,"color":"#8a8a8a","thickness":1.3},"encoding":{"x":{"field":"xhi","type":"quantitative","title":"% remained SS","scale":{"domain":[0,110],"nice":false,"zero":false}}}},
{"data":{"name":"trend"},"transform":[{"filter":"datum.metric=='Fsurface'&&datum.time=='30 s'"}],"mark":{"type":"line","color":"#222","strokeWidth":1.4}},
{"data":{"name":"trend"},"transform":[{"filter":"datum.metric=='Fsurface'&&datum.time=='5 s'"}],"mark":{"type":"line","color":"#222","strokeWidth":1.4,"strokeDash":[3,2]}},
{"data":{"name":"points"},"transform":[{"filter":"datum.metric=='Fsurface'&&datum.time=='30 s'"}],"mark":{"type":"point","shape":"circle","filled":true,"color":"#000","size":280,"opacity":1}},
{"data":{"name":"points"},"transform":[{"filter":"datum.metric=='Fsurface'&&datum.time=='5 s'"}],"mark":{"type":"point","shape":"circle","filled":false,"stroke":"#000","strokeWidth":4.5,"fill":"white","size":210,"opacity":1}}
]}
]}
]}
